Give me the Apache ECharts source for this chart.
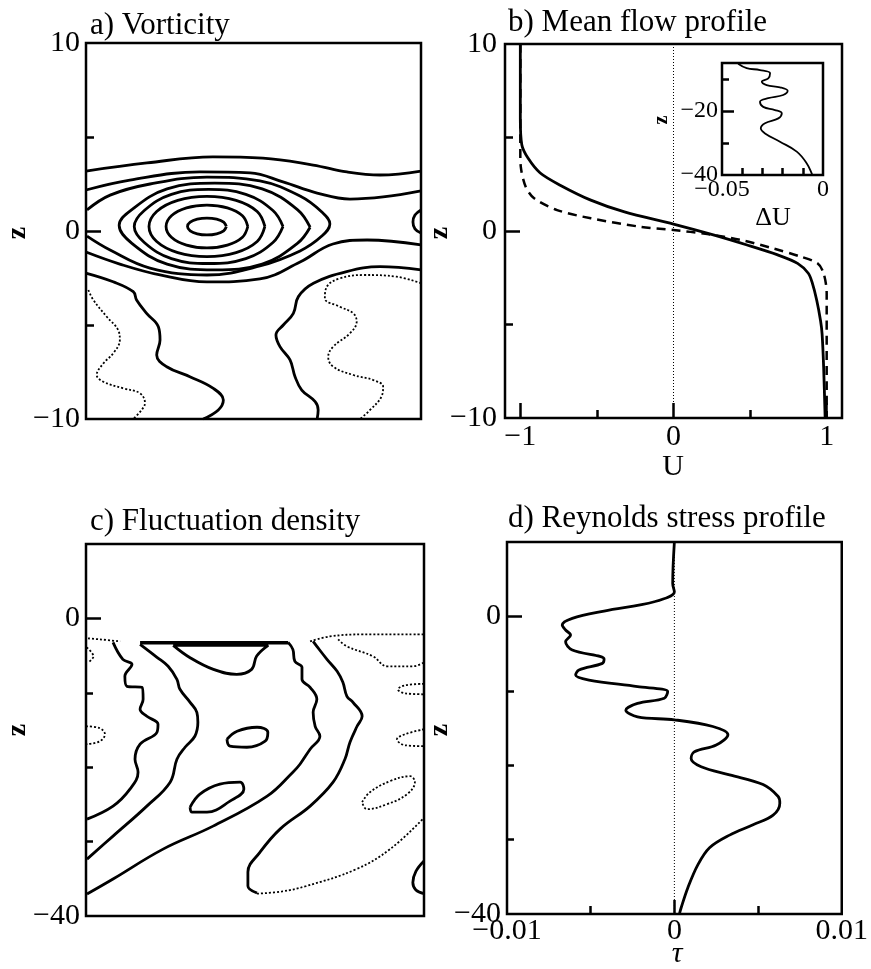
<!DOCTYPE html>
<html>
<head>
<meta charset="utf-8">
<script src="https://cdn.jsdelivr.net/npm/echarts@6.0.0/dist/echarts.min.js"></script>
<style>
html, body { margin: 0; padding: 0; background: #fff; }
#main { width: 871px; height: 969px; }
</style>
</head>
<body>
<div id="main"></div>
<script>
// ---- a) vorticity contours, x in arbitrary units 0..100, z -10..10
var vortA = [[0,3.19],[18.2,3.62],[37.9,3.94],[52.8,3.88],[67.8,3.51],[77.9,3.14],[87.8,2.98],[100,3.19]];
var vortB = [[0,2.18],[13.1,2.71],[34.0,3.14],[49.0,3.09],[58.8,2.61],[69.0,2.02],[78.8,1.70],[88.7,1.81],[100,2.13]];
var vortR1 = [[41.9,0.24],[41.1,0.47],[39.0,0.63],[36.1,0.69],[33.2,0.63],[31.1,0.47],[30.3,0.24],[31.1,0.01],[33.2,-0.15],[36.1,-0.21],[39.0,-0.15],[41.1,0.01],[41.9,0.24]];
var vortR2 = [[48.3,0.24],[46.7,0.81],[42.2,1.23],[36.1,1.38],[30.0,1.23],[25.5,0.81],[23.9,0.24],[25.5,-0.33],[30.0,-0.75],[36.1,-0.90],[42.2,-0.75],[46.7,-0.33],[48.3,0.24]];
var vortR3 = [[53.4,0.24],[51.1,1.04],[44.8,1.63],[36.1,1.84],[27.4,1.63],[21.1,1.04],[18.8,0.24],[21.1,-0.56],[27.4,-1.15],[36.1,-1.36],[44.8,-1.15],[51.1,-0.56],[53.4,0.24]];
var vortR4 = [[58.8,0.24],[55.8,1.09],[47.7,1.95],[36.6,2.21],[25.5,1.95],[17.4,1.09],[14.4,0.24],[17.4,-0.61],[25.5,-1.47],[36.6,-1.73],[47.7,-1.47],[55.8,-0.61],[58.8,0.24]];
var vortR5 = [[66.9,0.2],[63.1,1.14],[52.6,2.24],[38.4,2.55],[24.2,2.24],[13.7,1.14],[9.9,0.3],[13.7,-0.66],[24.2,-1.76],[38.4,-2.07],[52.6,-1.76],[63.1,-0.66],[66.9,0.2]];
var vortR6 = [[0.3,1.12],[7.2,1.91],[19.1,2.5],[36.1,2.87],[51.9,2.66],[63.9,1.86],[70.4,1.01],[72.8,0.37],[70.4,-0.27],[63.9,-1.06],[51.9,-1.86],[36.1,-2.34],[19.1,-1.97],[7.2,-1.01],[0.3,-0.27]];
var vortD = [[0,-1.12],[10.1,-1.76],[22.1,-2.34],[36.1,-2.71],[51.9,-2.55],[63.9,-1.65],[73.7,-0.69],[83.9,-0.48],[100,-0.74]];
var vortEdge = [[100,1.12],[98.2,0.85],[97.6,0.48],[98.2,0.11],[100,-0.11]];
var vortWaveL = [[0.2,-2.25],[8.1,-2.70],[14.1,-3.23],[15.1,-3.67],[18.1,-4.38],[21.6,-5.09],[22.1,-5.80],[21.1,-6.60],[24.1,-7.22],[31.0,-7.75],[38.0,-8.37],[41.0,-8.99],[39.5,-9.52],[35.0,-10]];
var vortWaveR = [[100,-2.07],[87.8,-1.90],[77.8,-2.16],[67.9,-2.78],[63.4,-3.49],[61.9,-4.38],[58.9,-5.0],[56.7,-5.53],[57.9,-6.15],[60.9,-6.86],[62.4,-7.75],[64.4,-8.46],[68.4,-9.08],[69.3,-9.52],[69.0,-10]];
var vortNegL = [[0.7,-3.14],[2.2,-3.67],[6.2,-4.56],[9.6,-5.27],[10.1,-5.80],[8.1,-6.51],[5.2,-7.04],[3.2,-7.66],[5.2,-8.02],[11.1,-8.37],[16.1,-8.63],[17.6,-9.16],[16.6,-9.52],[14.1,-10]];
var vortNegR = [[100,-2.78],[92.7,-2.43],[82.8,-2.34],[75.8,-2.52],[71.9,-2.96],[71.3,-3.58],[75.8,-4.03],[79.8,-4.38],[80.8,-4.82],[78.8,-5.44],[73.8,-6.15],[72.3,-6.69],[73.8,-7.22],[79.8,-7.66],[85.8,-7.93],[88.7,-8.28],[88.2,-8.81],[84.8,-9.52],[81.8,-10]];

// ---- b) mean flow profile [U, z]
var meanU = [[-1.0,10],[-1.0,6],[-0.99,4.6],[-0.95,3.9],[-0.87,3.1],[-0.74,2.45],[-0.54,1.65],[-0.32,1.02],[0,0.37],[0.26,-0.21],[0.48,-0.75],[0.68,-1.28],[0.81,-1.73],[0.88,-2.26],[0.905,-2.75],[0.935,-3.7],[0.96,-4.8],[0.97,-5.5],[0.98,-7.25],[0.99,-10]];
var initU = [[-1.0,10],[-1.0,4.2],[-0.997,3.44],[-0.965,2.37],[-0.91,1.75],[-0.76,1.12],[-0.54,0.68],[-0.22,0.23],[0,0.05],[0.22,-0.16],[0.44,-0.48],[0.65,-0.93],[0.83,-1.37],[0.94,-1.73],[0.98,-2.26],[1.0,-3.33],[1.0,-10]];
var zeroB = [[0,10],[0,-10]];
// inset [dU, z]
var deltaU = [[-0.042,-5.2],[-0.0378,-6.6],[-0.0312,-7.2],[-0.0262,-8.2],[-0.0271,-9.8],[-0.0303,-10.8],[-0.0279,-11.9],[-0.0213,-12.6],[-0.0175,-13.7],[-0.0197,-15.0],[-0.0271,-16.0],[-0.0312,-17.1],[-0.0296,-18.7],[-0.0238,-19.7],[-0.0204,-20.7],[-0.0221,-22.3],[-0.0287,-23.8],[-0.0308,-25.4],[-0.0287,-27.0],[-0.0213,-29.6],[-0.0130,-32.7],[-0.0081,-36.3],[-0.0056,-39.5],[-0.0054,-40]];

// ---- c) fluctuation density contours, x 0..100, z -40..10
var flucS1 = [[8.0,-3.22],[10.9,-5.5],[13.6,-6.17],[11.5,-7.79],[12.1,-9.13],[16.6,-9.26],[16.9,-10.87],[16.0,-12.21],[18.0,-13.15],[21.3,-14.23],[21.0,-15.3],[16.0,-16.9],[14.5,-18.93],[15.4,-20.67],[13.0,-22.95],[8.0,-25.23],[0.3,-26.98]];
var flucS2 = [[16.0,-3.49],[21.0,-5.23],[24.3,-6.44],[26.9,-8.19],[27.8,-9.53],[30.8,-11.28],[32.8,-12.62],[33.1,-13.96],[32.2,-15.84],[29.3,-17.32],[26.9,-18.93],[24.9,-22.01],[18.0,-25.23],[8.0,-29.26],[0.3,-32.35]];
var flucS3 = [[59.8,-3.22],[61.2,-4.16],[61.8,-5.77],[63.9,-6.58],[63.9,-8.19],[66.3,-9.26],[68.3,-10.87],[67.2,-12.62],[67.8,-14.5],[69.2,-15.84],[66.3,-17.58],[63.3,-19.6],[61.2,-20.67],[53.6,-23.89],[37.6,-27.92],[22.8,-31.01],[8.0,-35.03],[0.3,-37.05]];
var flucS4 = [[67.2,-3.09],[68.3,-3.76],[71.3,-5.5],[74.3,-7.11],[76.0,-8.59],[77.2,-10.47],[79.0,-11.28],[81.7,-13.15],[80.2,-14.5],[78.1,-16.64],[76.6,-18.93],[73.1,-22.01],[66.3,-25.23],[57.4,-28.32],[51.5,-31.41],[47.9,-34.09],[47.9,-35.97],[50.6,-36.91]];
var flucS5 = [[100,-32.6],[97.6,-34.0],[96.7,-35.5],[97.6,-36.5],[100,-37.0]];
var flucTop = [[16.0,-3.27],[59.8,-3.27]];
var flucCap = [[25.8,-3.62],[53.9,-3.62],[50.5,-5.06],[49.0,-6.85],[44.6,-7.52],[37.7,-6.85],[30.8,-5.28],[25.8,-3.62]];
var flucE1 = [[41.7,-16.24],[44.7,-15.17],[50.6,-14.63],[53.8,-15.3],[53.0,-16.51],[47.6,-17.32],[42.6,-17.18],[41.7,-16.24]];
var flucE2 = [[30.8,-25.37],[33.7,-23.62],[39.6,-22.28],[45.6,-22.01],[46.7,-22.95],[42.6,-24.56],[35.8,-26.04],[31.4,-26.04],[30.8,-25.37]];
var flucN1 = [[0.6,-2.68],[4.1,-2.82],[10.1,-3.09]];
var flucN2 = [[0.2,-3.9],[2.2,-5.1],[0.7,-5.9]];
var flucN3 = [[66.3,-3.09],[72.2,-2.42],[82.0,-2.15],[100,-2.15]];
var flucN4 = [[74.6,-2.82],[77.2,-3.76],[84.9,-5.1],[89.1,-6.44],[96.7,-6.44],[100,-5.91]];
var flucN5 = [[100,-8.8],[94.4,-8.99],[92.3,-9.53],[94.4,-10.07],[100,-10.2]];
var flucN6 = [[100,-14.9],[94.4,-15.57],[92.0,-16.24],[94.4,-17.05],[100,-17.18]];
var flucN7 = [[0,-14.5],[4.1,-14.77],[5.6,-15.57],[4.1,-16.51],[0,-16.91]];
var flucN8 = [[81.7,-24.7],[84.0,-23.36],[89.9,-21.88],[95.9,-21.21],[97.3,-22.01],[95.0,-23.62],[89.1,-24.97],[83.1,-25.64],[81.7,-24.7]];
var flucN9 = [[50.6,-37.0],[58,-36.7],[65,-36.0],[80,-33.7],[90,-31.0],[100,-26.8]];

// ---- d) Reynolds stress profile [tau, z]
var stress = [[0,10],[-0.0001,4.43],[0,3.31],[-0.0012,1.97],[-0.0042,0.72],[-0.0061,-0.27],[-0.0067,-1.17],[-0.0065,-1.83],[-0.0062,-2.5],[-0.0065,-3.4],[-0.0061,-4.52],[-0.0042,-5.73],[-0.0043,-6.31],[-0.0057,-7.2],[-0.0059,-7.88],[-0.0051,-8.55],[-0.0022,-9.44],[-0.0004,-10.1],[-0.0006,-11.0],[-0.0022,-11.7],[-0.0029,-12.6],[-0.0022,-13.5],[0,-13.9],[0.0023,-14.8],[0.0032,-15.9],[0.0025,-17.3],[0.0012,-18.2],[0.001,-19.1],[0.0016,-20.2],[0.0033,-21.3],[0.0053,-22.6],[0.0062,-24.2],[0.0063,-25.1],[0.0059,-26.7],[0.0047,-28.0],[0.0033,-29.4],[0.0021,-31.1],[0.0014,-33.4],[0.0008,-36.5],[0.0004,-39.2],[0.0003,-40]];
var zeroD = [[0,10],[0,-40]];

// tick and label values
var zTicksAB = [-10, 0, 10];
var zMinorAB = [-5, 5];
var uTicks = [-1, 0, 1];
var uMinor = [-0.5, 0.5];
var insetXLabels = [-0.05, 0];
var insetXTicks = [-0.04, -0.03, -0.02, -0.01];
var insetZLabels = [-20, -40];
var insetZMinor = [-10, -30];
var zLabelsCD = [0, -40];
var zMinorCD = [-10, -20, -30];
var tauLabels = [-0.01, 0, 0.01];
var tauMinor = [-0.005, 0.005];

var FONT = '"Liberation Serif", "Times New Roman", serif';

function minus(v) {
    return String(v).replace('-', '\u2212');
}

function frame(left, top, width, height, bg) {
    return {
        show: true, left: left, top: top, width: width, height: height,
        borderColor: '#000', borderWidth: 2.5, backgroundColor: bg || 'transparent'
    };
}

function axis(grid, min, max, pos, tickVals, tickLen, labelVals, fontSize, margin) {
    return {
        type: 'value', gridIndex: grid, min: min, max: max, position: pos,
        axisLine: { show: false, onZero: false },
        splitLine: { show: false },
        axisTick: {
            show: tickVals.length > 0, inside: true, length: tickLen,
            customValues: tickVals,
            lineStyle: { color: '#000', width: 2.5 }
        },
        axisLabel: {
            show: !!labelVals, customValues: labelVals || [],
            formatter: minus, fontFamily: FONT, fontSize: fontSize || 30,
            color: '#000', margin: margin || 6
        }
    };
}

function hidden(grid, min, max) {
    return { type: 'value', gridIndex: grid, min: min, max: max, show: false, axisLine: { onZero: false } };
}

function line(data, xi, yi, dotted, extra) {
    var s = {
        type: 'line', data: data, xAxisIndex: xi, yAxisIndex: yi,
        symbol: 'none', showSymbol: false, smooth: 0.4, silent: true,
        lineStyle: dotted
            ? { color: '#000', width: 1.8, type: [2, 2] }
            : { color: '#000', width: 2.8 }
    };
    return Object.assign(s, extra || {});
}

var series = [];
// panel a
[vortA, vortB, vortR1, vortR2, vortR3, vortR4, vortR5, vortR6, vortD, vortEdge, vortWaveL, vortWaveR]
    .forEach(function (d) { series.push(line(d, 0, 0, false)); });
[vortNegL, vortNegR].forEach(function (d) { series.push(line(d, 0, 0, true)); });
// panel b
series.push(line(zeroB, 1, 2, false, { smooth: false, lineStyle: { color: '#000', width: 1, type: [1, 2] } }));
series.push(line(meanU, 1, 2, false, { smooth: 0.3 }));
series.push(line(initU, 1, 2, false, { smooth: 0.3, lineStyle: { color: '#000', width: 2.5, type: [9, 6] } }));
// inset
series.push(line(deltaU, 3, 4, false, { smooth: 0.4, lineStyle: { color: '#000', width: 1.8 } }));
// panel c
[flucS1, flucS2, flucS3, flucS4, flucS5, flucCap, flucE1, flucE2]
    .forEach(function (d) { series.push(line(d, 4, 6, false)); });
series.push(line(flucTop, 4, 6, false, { smooth: false, lineStyle: { color: '#000', width: 3.5 } }));
[flucN1, flucN2, flucN3, flucN4, flucN5, flucN6, flucN7, flucN8, flucN9]
    .forEach(function (d) { series.push(line(d, 4, 6, true)); });
// panel d
series.push(line(zeroD, 5, 8, false, { smooth: false, lineStyle: { color: '#000', width: 1, type: [1, 2] } }));
series.push(line(stress, 5, 8, false, { smooth: 0.35 }));

function label(text, x, y, size, align, style) {
    return {
        type: 'text', x: x, y: y, silent: true,
        style: {
            text: text, font: (style ? style + ' ' : '') + (size || 31) + 'px ' + FONT, fill: '#000',
            textAlign: align || 'left', textVerticalAlign: 'middle'
        }
    };
}

function zName(x, y, size) {
    return {
        type: 'text', x: x, y: y, rotation: Math.PI / 2, silent: true,
        style: {
            text: 'z', font: 'bold ' + size + 'px ' + FONT, fill: '#000',
            textAlign: 'center', textVerticalAlign: 'middle'
        }
    };
}

var option = {
    animation: false,
    backgroundColor: '#fff',
    grid: [
        frame(86, 43, 335, 376),
        frame(505, 44, 337, 374),
        frame(722, 63, 101, 112, '#fff'),
        frame(86, 544, 338, 372),
        frame(507, 542, 339, 372)
    ],
    xAxis: [
        hidden(0, 0, 100),
        axis(1, -1.1, 1.1, 'bottom', uTicks, 15, uTicks, 30, 4),
        axis(1, -1.1, 1.1, 'bottom', uMinor, 8, null),
        axis(2, -0.05, 0, 'bottom', insetXTicks, 7, insetXLabels, 24, 3),
        hidden(3, 0, 100),
        axis(4, -0.01, 0.01, 'bottom', [0], 14, tauLabels, 30, 2),
        axis(4, -0.01, 0.01, 'bottom', tauMinor, 8, null)
    ],
    yAxis: [
        axis(0, -10, 10, 'left', [0], 15, zTicksAB, 30, 6),
        axis(0, -10, 10, 'left', zMinorAB, 8, null),
        axis(1, -10, 10, 'left', [0], 15, zTicksAB, 30, 8),
        axis(1, -10, 10, 'left', zMinorAB, 8, null),
        axis(2, -40, -5, 'left', [-20], 12, insetZLabels, 24, 4),
        axis(2, -40, -5, 'left', insetZMinor, 7, null),
        axis(3, -40, 10, 'left', [0], 15, zLabelsCD, 30, 6),
        axis(3, -40, 10, 'left', zMinorCD, 7, null),
        axis(4, -40, 10, 'left', [0], 15, zLabelsCD, 30, 6),
        axis(4, -40, 10, 'left', zMinorCD, 7, null)
    ],
    graphic: [
        label('a) Vorticity', 90, 26),
        label('b) Mean flow profile', 508, 23),
        label('c) Fluctuation density', 90, 522),
        label('d) Reynolds stress profile', 508, 519),
        label('U', 673, 467, 30, 'center'),
        label('\u0394U', 773, 218, 26, 'center'),
        label('\u03c4', 677, 954, 30, 'center', 'italic'),
        zName(18, 233, 28),
        zName(440, 233, 28),
        zName(18, 730, 28),
        zName(440, 730, 28),
        zName(662, 120, 20)
    ],
    series: series
};

var chart = echarts.init(document.getElementById('main'), null, { renderer: 'canvas' });
chart.setOption(option);
</script>
</body>
</html>
